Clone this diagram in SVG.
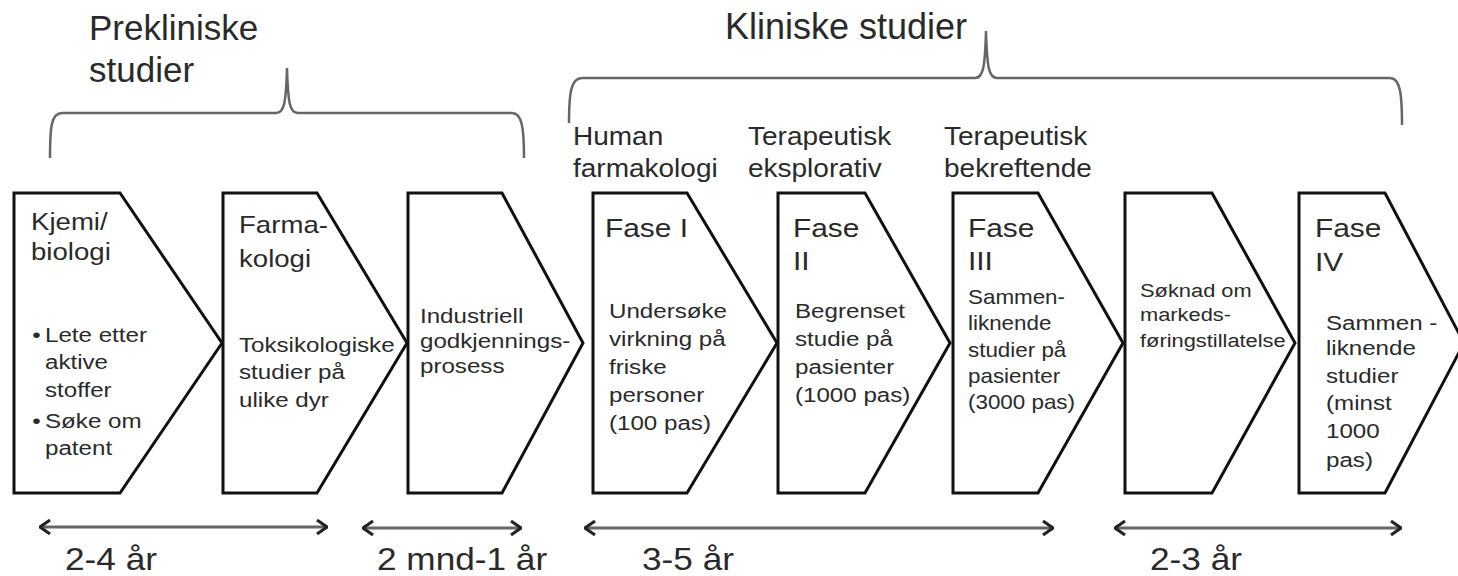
<svg xmlns="http://www.w3.org/2000/svg" width="1458" height="576" viewBox="0 0 1458 576">
<defs>
<style>
.chev{fill:#fff;stroke:#111;stroke-width:3;stroke-linejoin:miter}
.brace{fill:none;stroke:#666;stroke-width:2.5}
.span{stroke:#666;stroke-width:3}
text{font-family:"Liberation Sans",Arial,sans-serif;fill:#2a2a2a}
.title{font-size:35px}
.lab{font-size:25px}
.head{font-size:24px}
.fase{font-size:26px}
.body{font-size:21px}
.dur{font-size:32px}
</style>
<marker id="ah" viewBox="0 0 12 16" refX="11" refY="8" markerWidth="12" markerHeight="16" markerUnits="userSpaceOnUse" orient="auto-start-reverse">
<path d="M1 1 L11 8 L1 15" fill="none" stroke="#222" stroke-width="3"/>
</marker>
</defs>
<rect width="1458" height="576" fill="#fff"/>

<g id="titles">
<text class="title" x="89" y="40">Prekliniske</text>
<text class="title" x="89" y="82">studier</text>
<text class="title" x="725" y="39" style="font-size:36px">Kliniske studier</text>
</g>

<g id="braces">
<path class="brace" d="M50 158 C50 128 51 113 62 113 L276 113 C284 113 286 104 287 68 C288 104 290 113 298 113 L512 113 C522 113 524 128 524 158"/>
<path class="brace" d="M569 123 C569 93 571 78 582 78 L975 78 C983 78 985 68 986 31 C987 68 989 78 997 78 L1390 78 C1400 78 1402 93 1402 125"/>
</g>

<g id="phase-labels">
<text class="lab" transform="translate(573 145) scale(1.12 1)"><tspan x="0" y="0">Human</tspan><tspan x="0" y="32">farmakologi</tspan></text>
<text class="lab" transform="translate(748 145) scale(1.12 1)"><tspan x="0" y="0">Terapeutisk</tspan><tspan x="0" y="32">eksplorativ</tspan></text>
<text class="lab" transform="translate(944 145) scale(1.12 1)"><tspan x="0" y="0">Terapeutisk</tspan><tspan x="0" y="32">bekreftende</tspan></text>
</g>

<g id="node-kjemi">
<polygon class="chev" points="14,193 120,193 222,343 120,493 14,493"/>
<text class="head" transform="translate(31 230) scale(1.15 1)"><tspan x="0" y="0">Kjemi/</tspan><tspan x="0" y="30">biologi</tspan></text>
<text class="body" transform="translate(45 342) scale(1.15 1)"><tspan x="-11" y="0">•</tspan><tspan x="0" y="0">Lete etter</tspan><tspan x="0" y="27">aktive</tspan><tspan x="0" y="55">stoffer</tspan><tspan x="-11" y="86">•</tspan><tspan x="0" y="86">Søke om</tspan><tspan x="0" y="113">patent</tspan></text>
</g>

<g id="node-farmakologi">
<polygon class="chev" points="223,193 317,193 407,343 317,493 223,493"/>
<text class="head" transform="translate(239 233) scale(1.15 1)"><tspan x="0" y="0">Farma-</tspan><tspan x="0" y="34">kologi</tspan></text>
<text class="body" transform="translate(239 352) scale(1.15 1)"><tspan x="0" y="0">Toksikologiske</tspan><tspan x="0" y="27">studier på</tspan><tspan x="0" y="55">ulike dyr</tspan></text>
</g>

<g id="node-industriell">
<polygon class="chev" points="408,193 502,193 583,343 502,493 408,493"/>
<text class="body" transform="translate(420 323) scale(1.15 1)"><tspan x="0" y="0">Industriell</tspan><tspan x="0" y="25">godkjennings-</tspan><tspan x="0" y="50">prosess</tspan></text>
</g>

<g id="node-fase1">
<polygon class="chev" points="593,193 687,193 777,343 687,493 593,493"/>
<text class="fase" transform="translate(605 237) scale(1.15 1)">Fase I</text>
<text class="body" transform="translate(609 318) scale(1.15 1)"><tspan x="0" y="0">Undersøke</tspan><tspan x="0" y="28">virkning på</tspan><tspan x="0" y="56">friske</tspan><tspan x="0" y="84">personer</tspan><tspan x="0" y="112">(100 pas)</tspan></text>
</g>

<g id="node-fase2">
<polygon class="chev" points="778,193 865,193 950,343 865,493 778,493"/>
<text class="fase" transform="translate(793 237) scale(1.15 1)"><tspan x="0" y="0">Fase</tspan><tspan x="0" y="33">II</tspan></text>
<text class="body" transform="translate(795 318) scale(1.15 1)"><tspan x="0" y="0">Begrenset</tspan><tspan x="0" y="28">studie på</tspan><tspan x="0" y="56">pasienter</tspan><tspan x="0" y="84">(1000 pas)</tspan></text>
</g>

<g id="node-fase3">
<polygon class="chev" points="953,193 1038,193 1123,343 1038,493 953,493"/>
<text class="fase" transform="translate(968 237) scale(1.15 1)"><tspan x="0" y="0">Fase</tspan><tspan x="0" y="33">III</tspan></text>
<text class="body" transform="translate(968 304) scale(1.12 1)" style="font-size:20px"><tspan x="0" y="0">Sammen-</tspan><tspan x="0" y="26">liknende</tspan><tspan x="0" y="53">studier på</tspan><tspan x="0" y="79">pasienter</tspan><tspan x="0" y="105">(3000 pas)</tspan></text>
</g>

<g id="node-soknad">
<polygon class="chev" points="1125,193 1212,193 1295,343 1212,493 1125,493"/>
<text class="body" transform="translate(1140 297) scale(1.15 1)" style="font-size:19px"><tspan x="0" y="0">Søknad om</tspan><tspan x="0" y="24">markeds-</tspan><tspan x="0" y="50">føringstillatelse</tspan></text>
</g>

<g id="node-fase4">
<polygon class="chev" points="1299,193 1385,193 1464,343 1385,493 1299,493"/>
<text class="fase" transform="translate(1315 237) scale(1.15 1)"><tspan x="0" y="0">Fase</tspan><tspan x="0" y="34">IV</tspan></text>
<text class="body" transform="translate(1326 330) scale(1.15 1)"><tspan x="0" y="0">Sammen -</tspan><tspan x="0" y="25">liknende</tspan><tspan x="0" y="53">studier</tspan><tspan x="0" y="80">(minst</tspan><tspan x="0" y="108">1000</tspan><tspan x="0" y="137">pas)</tspan></text>
</g>

<g id="connectors">
<line class="span" x1="40" y1="527" x2="327" y2="527" marker-start="url(#ah)" marker-end="url(#ah)"/>
<line class="span" x1="363" y1="528" x2="521" y2="528" marker-start="url(#ah)" marker-end="url(#ah)"/>
<line class="span" x1="585" y1="528" x2="1053" y2="528" marker-start="url(#ah)" marker-end="url(#ah)"/>
<line class="span" x1="1115" y1="528" x2="1401" y2="528" marker-start="url(#ah)" marker-end="url(#ah)"/>
</g>

<g id="durations">
<text class="dur" transform="translate(65 570) scale(1.1 1)">2-4 år</text>
<text class="dur" transform="translate(377 570) scale(1.1 1)">2 mnd-1 år</text>
<text class="dur" transform="translate(642 570) scale(1.1 1)">3-5 år</text>
<text class="dur" transform="translate(1150 570) scale(1.1 1)">2-3 år</text>
</g>
</svg>
